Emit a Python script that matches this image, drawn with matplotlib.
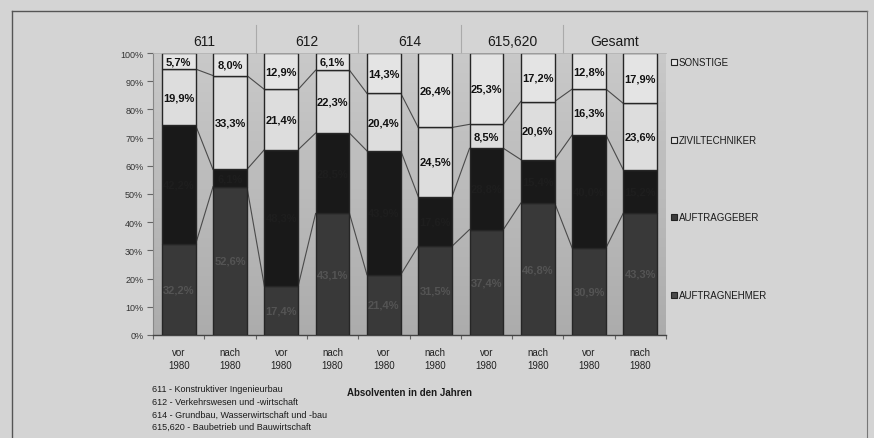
import numpy as np
import matplotlib
matplotlib.use("Agg")
import matplotlib.pyplot as plt
from matplotlib.patches import Rectangle
from matplotlib.lines import Line2D

plt.rcParams['font.family'] = ['Liberation Sans', 'DejaVu Sans']

# ---- data -------------------------------------------------------------
groups = ["611", "612", "614", "615,620", "Gesamt"]
periods = ["vor\n1980", "nach\n1980"] * 5
series_names = ["AUFTRAGNEHMER", "AUFTRAGGEBER", "ZIVILTECHNIKER", "SONSTIGE"]
auftragnehmer = [32.2, 52.6, 17.4, 43.1, 21.4, 31.5, 37.4, 46.8, 30.9, 43.3]
auftraggeber = [42.2, 6.1, 48.3, 28.5, 43.9, 17.6, 28.8, 15.4, 40.0, 15.2]
ziviltechniker = [19.9, 33.3, 21.4, 22.3, 20.4, 24.5, 8.5, 20.6, 16.3, 23.6]
sonstige = [5.7, 8.0, 12.9, 6.1, 14.3, 26.4, 25.3, 17.2, 12.8, 17.9]
footnotes = [
    "611 - Konstruktiver Ingenieurbau",
    "612 - Verkehrswesen und -wirtschaft",
    "614 - Grundbau, Wasserwirtschaft und -bau",
    "615,620 - Baubetrieb und Bauwirtschaft",
]

series = [auftragnehmer, auftraggeber, ziviltechniker, sonstige]
fills = ["#393939", "#191919", "#dddddd", "#e4e4e4"]
label_colors = ["#545454", "#1e1e1e", "#111111", "#111111"]

W, H = 874, 439
fig = plt.figure(figsize=(W / 100, H / 100), dpi=100)
fig.patch.set_facecolor("#d4d4d4")

def fx(px):
    return px / W

def fy(py):
    return 1 - py / H

# outer frame of the figure panel
fig.add_artist(Line2D([fx(12), fx(867)], [fy(12), fy(12)], color="#555555", lw=1.0))
fig.add_artist(Line2D([fx(12), fx(12)], [fy(12), fy(439)], color="#555555", lw=1.0))
fig.add_artist(Line2D([fx(867), fx(867)], [fy(12), fy(439)], color="#777777", lw=0.8))

ax = fig.add_axes([fx(153), fy(336), fx(666) - fx(153), fy(54) - fy(336)])

# plot-area background with a soft vertical gradient
grad = np.linspace(0, 1, 256).reshape(-1, 1)
ax.imshow(grad, extent=[-0.5, 9.5, 0, 100], aspect="auto", origin="lower",
          cmap=matplotlib.colors.LinearSegmentedColormap.from_list(
              "bg", ["#acacac", "#c9c9c9"]), zorder=0)

x = np.arange(len(periods))
width = 0.66
bottom = np.zeros(len(x))
tops = []
for vals, fc, lc in zip(series, fills, label_colors):
    vals = np.array(vals)
    ax.bar(x, vals, width, bottom=bottom, color=fc, edgecolor="#262626",
           linewidth=1.0, zorder=3)
    for xi, b, v in zip(x, bottom, vals):
        ax.text(xi, b + v / 2, f"{v:.1f}%".replace(".", ","), ha="center",
                va="center", fontsize=8, fontweight="bold", color=lc, zorder=4)
    bottom = bottom + vals
    tops.append(bottom.copy())

# series lines linking segment boundaries of neighbouring bars
for level in tops[:-1]:
    for i in range(len(x) - 1):
        ax.plot([x[i] + width / 2, x[i + 1] - width / 2], [level[i], level[i + 1]],
                color="#4a4a4a", lw=0.8, zorder=2)

ax.set_xlim(-0.5, 9.5)
ax.set_ylim(0, 100)
ax.set_yticks(np.arange(0, 101, 10))
ax.set_yticklabels([f"{v}%" for v in range(0, 101, 10)], fontsize=6.5, color="#333333")
ax.set_xticks(x)
ax.set_xticklabels(periods, fontsize=7, color="#222222", linespacing=1.3)
ax.tick_params(axis="x", length=0, pad=9)
ax.tick_params(axis="y", length=4, width=0.8, color="#666666", pad=3)
ax.set_xticks(np.arange(-0.5, 10, 1), minor=True)
ax.tick_params(axis="x", which="minor", length=3, color="#666666", width=0.8)
for s in ["top", "right"]:
    ax.spines[s].set_visible(False)
ax.spines["left"].set_color("#888888")
ax.spines["left"].set_linewidth(0.8)
ax.spines["bottom"].set_color("#444444")
ax.spines["bottom"].set_linewidth(1.0)

ax.set_xlabel("Absolventen in den Jahren", fontsize=7, fontweight="bold",
              color="#1a1a1a", labelpad=12)

# group header above the bars
ax_px = ax.get_position()
for gi, g in enumerate(groups):
    cx = ax_px.x0 + (2 * gi + 0.5 + 0.5) / 10 * ax_px.width
    fig.text(cx, fy(42), g, ha="center", va="center", fontsize=10, color="#1a1a1a")
    if gi > 0:
        bx = ax_px.x0 + (2 * gi) / 10 * ax_px.width
        fig.add_artist(Line2D([bx, bx], [fy(26), fy(54)], color="#aaaaaa", lw=0.8))
fig.add_artist(Line2D([ax_px.x0, ax_px.x1], [fy(54), fy(54)], color="#b4b4b4", lw=0.6))

# legend entries
legend_y = [296, 218, 141, 63]
legend_fc = ["#4a4a4a", "#3c3c3c", "#e2e2e2", "#e6e6e6"]
for name, ly, fc in zip(series_names, legend_y, legend_fc):
    fig.add_artist(Rectangle((fx(671), fy(ly + 3)), fx(6), fx(6) * W / H,
                             facecolor=fc, edgecolor="#222222", lw=0.8))
    fig.text(fx(679), fy(ly), name, ha="left", va="center", fontsize=7,
             color="#1a1a1a")

# footnotes
for i, note in enumerate(footnotes):
    fig.text(fx(152), fy(390 + i * 12.6), note, ha="left", va="center",
             fontsize=6.5, color="#1a1a1a")

fig.savefig("out.png", dpi=100, facecolor=fig.get_facecolor())
